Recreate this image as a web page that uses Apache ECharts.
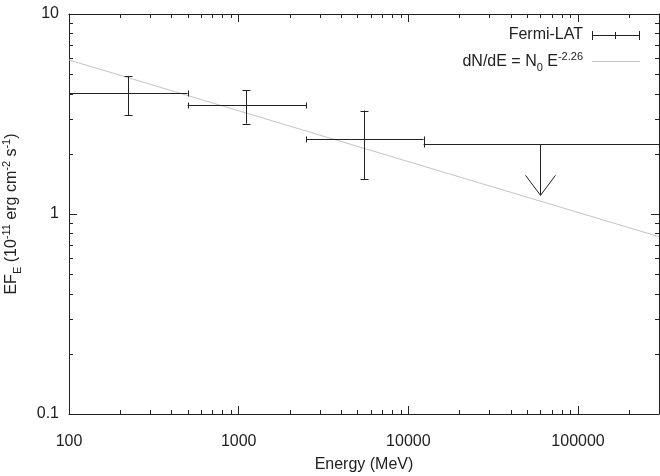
<!DOCTYPE html>
<html>
<head>
<meta charset="utf-8">
<script src="https://cdn.jsdelivr.net/npm/echarts@6/dist/echarts.min.js"></script>
<style>
  html, body { margin: 0; padding: 0; background: #fff; }
  #chart { width: 660px; height: 476px; }
</style>
</head>
<body>
<div id="chart"></div>
<script>
// Fermi-LAT points: [E, EF_E, E_lo, E_hi, EF_lo, EF_hi]
const fermiPoints = [
  [223, 4.01, 100, 500, 3.11, 4.88],
  [1100, 3.49, 500, 2500, 2.83, 4.15],
  [5500, 2.38, 2500, 12300, 1.49, 3.29]
]
// upper limit: [E_lo, E_hi, EF, E_arrow, EF_tip]
const upperLimits = [
  [12300, 300000, 2.23, 60000, 1.24]
]
// power law dN/dE = N0 E^-2.26 (endpoints)
const powerLaw = [[100, 5.89], [300000, 0.77]]

const xRange = [100, 300000]
const yRange = [0.1, 10]
const xMinorTicks = [200, 300, 400, 500, 600, 700, 800, 900,
  2000, 3000, 4000, 5000, 6000, 7000, 8000, 9000,
  20000, 30000, 40000, 50000, 60000, 70000, 80000, 90000, 200000]
const yMinorTicks = [0.2, 0.3, 0.4, 0.5, 0.6, 0.7, 0.8, 0.9,
  2, 3, 4, 5, 6, 7, 8, 9]

const INK = '#222'
const FONT = '"Liberation Sans", Arial, Helvetica, sans-serif'

const chart = echarts.init(document.getElementById('chart'))

const seg = (x1, y1, x2, y2, stroke) => ({
  type: 'line',
  shape: { x1, y1, x2, y2 },
  style: { stroke: stroke || INK, lineWidth: 1 },
  silent: true
})
const px = v => Math.round(v) + 0.5

function renderPoint(params, api) {
  const x = api.value(0), y = api.value(1)
  const c = api.coord([x, y])
  const l = api.coord([api.value(2), y])
  const r = api.coord([api.value(3), y])
  const b = api.coord([x, api.value(4)])
  const t = api.coord([x, api.value(5)])
  const cy = px(c[1]), cx = px(c[0])
  return {
    type: 'group',
    children: [
      seg(l[0], cy, r[0], cy),
      seg(px(l[0]), cy - 3, px(l[0]), cy + 3),
      seg(px(r[0]), cy - 3, px(r[0]), cy + 3),
      seg(cx, t[1], cx, b[1]),
      seg(cx - 4, px(t[1]), cx + 4, px(t[1])),
      seg(cx - 4, px(b[1]), cx + 4, px(b[1]))
    ]
  }
}

function renderLimit(params, api) {
  const y = api.value(2)
  const l = api.coord([api.value(0), y])
  const r = api.coord([api.value(1), y])
  const a = api.coord([api.value(3), y])
  const tip = api.coord([api.value(3), api.value(4)])
  const cy = px(l[1]), ax = px(a[0])
  return {
    type: 'group',
    children: [
      seg(l[0], cy, r[0], cy),
      seg(px(l[0]), cy - 3, px(l[0]), cy + 3),
      seg(ax, cy, ax, tip[1]),
      seg(ax - 15, tip[1] - 20, ax, tip[1]),
      seg(ax + 15, tip[1] - 20, ax, tip[1])
    ]
  }
}

const axisCommon = {
  axisLine: { show: true, lineStyle: { color: INK, width: 1 } },
  axisTick: { show: true, inside: true, length: 8, lineStyle: { color: INK, width: 1 } },
  splitLine: { show: false },
  minorTick: { show: false },
  axisLabel: { color: INK, fontFamily: FONT, fontSize: 16, formatter: v => String(v) }
}

const legendGraphic = [
  {
    type: 'text', x: 583, y: 35,
    style: {
      text: 'Fermi-LAT', fill: INK, font: '16px ' + FONT,
      align: 'right', verticalAlign: 'middle'
    }
  },
  seg(592, 35.5, 639, 35.5),
  seg(592.5, 31, 592.5, 40),
  seg(639.5, 31, 639.5, 40),
  seg(615.5, 32, 615.5, 39),
  {
    type: 'text', x: 583, y: 62,
    style: {
      text: '{n|dN/dE = N}{sub|0}{n| E}{sup|-2.26}',
      align: 'right', verticalAlign: 'middle',
      rich: {
        n: { font: '16px ' + FONT, lineHeight: 22, fill: INK },
        sup: { font: '11px ' + FONT, lineHeight: 11, verticalAlign: 'top', fill: INK },
        sub: { font: '11px ' + FONT, lineHeight: 11, verticalAlign: 'bottom', fill: INK }
      }
    }
  },
  seg(592, 61.5, 640, 61.5, '#c4c4c4')
]

chart.setOption({
  animation: false,
  backgroundColor: '#fff',
  grid: { left: 69, top: 14, width: 590, height: 400, containLabel: false, outerBoundsMode: 'none' },
  xAxis: [
    Object.assign({}, axisCommon, {
      type: 'log', logBase: 10, min: xRange[0], max: xRange[1], position: 'bottom',
      axisLabel: Object.assign({}, axisCommon.axisLabel, { margin: 20, showMaxLabel: false }),
      name: 'Energy (MeV)', nameLocation: 'middle', nameGap: 43,
      nameTextStyle: { color: INK, fontFamily: FONT, fontSize: 16 }
    }),
    Object.assign({}, axisCommon, {
      type: 'log', logBase: 10, min: xRange[0], max: xRange[1], position: 'top',
      axisLabel: { show: false }
    })
  ],
  yAxis: [
    Object.assign({}, axisCommon, {
      type: 'log', logBase: 10, min: yRange[0], max: yRange[1], position: 'left',
      axisLabel: Object.assign({}, axisCommon.axisLabel, { margin: 10 }),
      name: '{n|EF}{sub|E}{n| (10}{sup|-11}{n| erg cm}{sup|-2}{n| s}{sup|-1}{n|)}',
      nameLocation: 'middle', nameRotate: 90, nameGap: 46,
      nameTextStyle: {
        color: INK, fontFamily: FONT, fontSize: 16,
        rich: {
          n: { fontFamily: FONT, fontSize: 16, lineHeight: 22, color: INK },
          sup: { fontFamily: FONT, fontSize: 11, lineHeight: 11, verticalAlign: 'top', color: INK },
          sub: { fontFamily: FONT, fontSize: 11, lineHeight: 11, verticalAlign: 'bottom', color: INK }
        }
      }
    }),
    Object.assign({}, axisCommon, {
      type: 'log', logBase: 10, min: yRange[0], max: yRange[1], position: 'right',
      axisLabel: { show: false }
    })
  ],
  series: [
    {
      type: 'line',
      data: powerLaw,
      symbol: 'none',
      lineStyle: { color: '#c4c4c4', width: 1 },
      z: 1
    },
    {
      type: 'custom',
      renderItem: renderPoint,
      data: fermiPoints,
      clip: true,
      z: 3
    },
    {
      type: 'custom',
      renderItem: renderLimit,
      data: upperLimits,
      clip: true,
      z: 3
    }
  ],
  graphic: legendGraphic
})

// minor log ticks on all four sides, placed with the chart's own scales
const toPx = (x, y) => chart.convertToPixel({ gridIndex: 0 }, [x, y])
const minorTicks = []
xMinorTicks.forEach(v => {
  const b = toPx(v, yRange[0]), t = toPx(v, yRange[1])
  const x = px(b[0])
  minorTicks.push(seg(x, b[1], x, b[1] - 4), seg(x, t[1], x, t[1] + 4))
})
yMinorTicks.forEach(v => {
  const l = toPx(xRange[0], v), r = toPx(xRange[1], v)
  const y = px(l[1])
  minorTicks.push(seg(l[0], y, l[0] + 4, y), seg(r[0], y, r[0] - 4, y))
})
chart.setOption({ graphic: legendGraphic.concat(minorTicks) })
</script>
</body>
</html>
